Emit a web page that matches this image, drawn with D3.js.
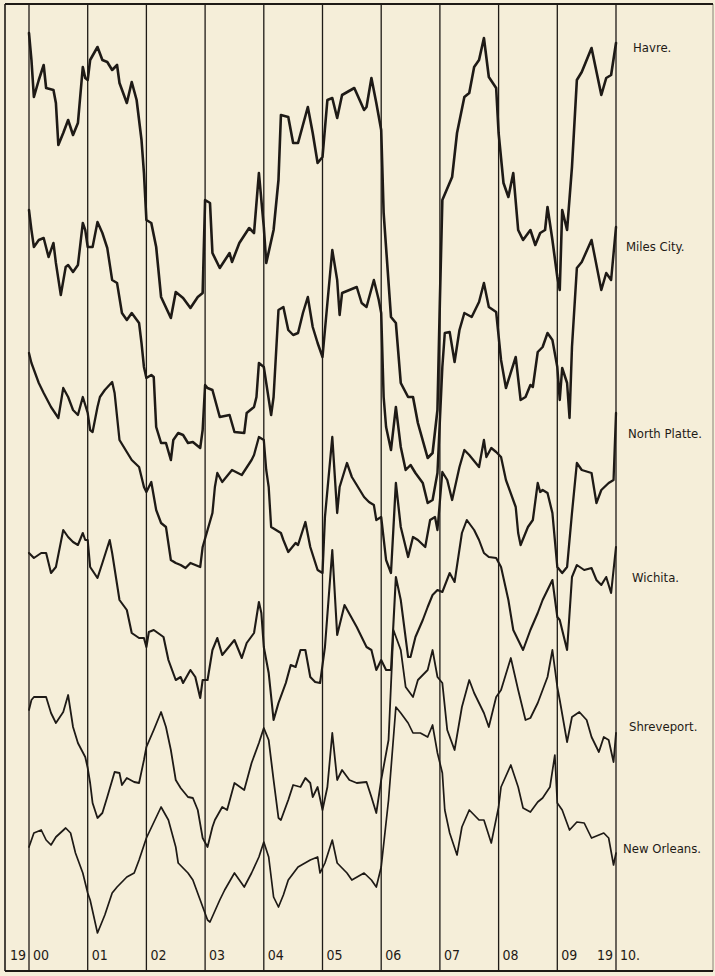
<!DOCTYPE html>
<html>
<head>
<meta charset="utf-8">
<script src="https://cdnjs.cloudflare.com/ajax/libs/d3/7.8.5/d3.min.js"></script>
<style>
  html, body { margin: 0; padding: 0; background: #f5eed9; }
  svg { display: block; }
</style>
</head>
<body>
<div id="container"></div>
<script>
// monthly index (0 = Jan 1900, 120 = Jan 1910) and relative level
const havre = [[0,938],[0.5,911],[1,874],[2,891],[3,906],[3.5,883],[5,881],[5.5,868],[6,826],[7,838],[8,851],[9,836],[10,848],[11,904],[11.5,893],[12,891],[12.5,911],[14,924],[15,911],[16,909],[17,901],[18,906],[18.5,888],[20,868],[21,889],[22,871],[23,831],[23.5,798],[24,751],[25,748],[26,724],[27,674],[29,653],[30,679],[31.5,673],[33,663],[34.5,674],[35.5,678],[36,771],[37,768],[37.5,718],[39,703],[41,718],[41.5,709],[43,728],[45,743],[46,738],[47,798],[48,744],[48.5,708],[50,741],[51,791],[51.5,856],[53,854],[54,828],[55,828],[57,864],[58,838],[59,808],[60,814],[61,871],[62,873],[63,853],[64,876],[66.5,883],[68.5,861],[69,864],[70,893],[71,868],[72,841],[72.5,758],[74,654],[75,648],[76,588],[77.5,574],[78.5,574],[79.5,548],[81.5,513],[82.5,518],[83.5,561],[84,671],[84.5,771],[86.5,794],[87.5,838],[89,874],[90,878],[91,904],[92,911],[93,933],[94,894],[95.5,883],[96,838],[97,788],[98,774],[99,798],[100,741],[101,731],[102.5,741],[103.5,726],[104.5,738],[105.5,741],[106,764],[107,731],[108,694],[108.5,681],[109,761],[110,741],[111,804],[112,891],[113,899],[115,923],[117,876],[118,893],[119,896],[120,928]];

const milesCity = [[0,761],[0.5,741],[1,724],[2,731],[3,733],[4,714],[5,728],[5.5,708],[6.5,676],[7.5,704],[8,706],[9,699],[10,706],[11,748],[11.5,741],[12,724],[13,724],[14,749],[15,738],[16,723],[17,691],[18,688],[19,658],[20,651],[21,658],[22.5,648],[23,628],[23.5,604],[24,593],[25,596],[25.5,594],[26,544],[27,528],[28,528],[29,511],[29.5,531],[30.5,538],[31.5,536],[32.5,528],[33.5,529],[35,523],[35.5,541],[36,586],[36.5,583],[37.5,581],[39,554],[41,556],[42,539],[44,538],[44.5,558],[46,564],[46.5,574],[47,608],[48,604],[48.5,588],[49.5,556],[50,574],[51,661],[52,664],[53,641],[54,636],[55,638],[56,658],[57,674],[58,644],[59,628],[60,614],[60.5,641],[61,668],[62,721],[63,691],[63.5,656],[64,678],[65.5,681],[67,684],[68,668],[69,664],[70.5,691],[71.5,671],[72,658],[72.5,574],[73,544],[74,521],[75,564],[76,524],[77,501],[78,506],[79,498],[80.5,488],[81.5,468],[82.5,471],[83.5,498],[84.5,604],[85,638],[86,639],[87,609],[88,641],[89,658],[90.5,654],[92,669],[93,688],[94,664],[95.5,659],[96.5,611],[97.5,583],[99.5,614],[100.5,571],[101.5,574],[102.5,586],[103,584],[104,619],[105,624],[106,638],[107,631],[108,604],[108.5,571],[109,603],[110,588],[110.5,553],[111,624],[112,703],[113,709],[115,731],[117,681],[118,698],[119,691],[120,744]];

const northPlatte = [[0,618],[0.5,608],[2,588],[3,578],[4.5,564],[6,553],[7,583],[8,574],[9,561],[10,556],[11,574],[12,558],[12.5,541],[13,539],[14,564],[14.5,574],[15.5,581],[17,589],[17.5,578],[18.5,531],[20,519],[21,511],[22.5,504],[23.5,484],[24,479],[25,489],[26,461],[27,448],[28,444],[29,411],[30,408],[31,406],[32,403],[33,408],[34,406],[35,404],[35.5,424],[36.5,441],[37.5,458],[38,484],[38.5,498],[39.5,489],[41.5,501],[43.5,496],[45.5,511],[46,516],[47,534],[48,531],[48.5,501],[49,484],[49.5,444],[50.5,441],[51.5,438],[52,431],[53,419],[54.5,428],[55,426],[56.5,449],[57.5,424],[59,401],[60,398],[60.5,454],[62,534],[63,458],[63.5,484],[65,508],[66,494],[68.5,474],[69.5,469],[70.5,466],[71,451],[72,454],[73,411],[74,398],[75,488],[76,444],[77.5,414],[78.5,434],[79.5,431],[81,424],[82,451],[83,454],[83.5,441],[84.5,499],[85.5,491],[86.5,471],[88,504],[89,521],[90,516],[92,504],[93,531],[93.5,514],[94.5,523],[95.5,519],[96.5,514],[97.5,491],[99.5,464],[100,438],[100.5,426],[102,444],[103,451],[104,488],[104.5,479],[105,481],[106,478],[107,458],[108,404],[109,398],[110,404],[111,458],[112,508],[113,501],[115,498],[116,468],[117,481],[118.5,488],[119.5,491],[120,558]];

const wichita = [[0,418],[1,413],[2.5,418],[3.5,418],[4.5,398],[5.5,404],[7,441],[8,434],[9,429],[10,426],[11,438],[11.5,431],[12,431],[12.5,404],[14,393],[15,408],[16.5,431],[17,418],[18.5,371],[20,361],[21,338],[22.5,333],[23.5,333],[24,324],[24.5,339],[25.5,341],[27.5,334],[28.5,311],[30,291],[31,294],[31.5,288],[33,301],[34,294],[35,273],[35.5,291],[36.5,291],[37.5,321],[38.5,333],[39.5,316],[42,331],[43.5,313],[44.5,328],[46,338],[47,369],[47.5,358],[48,324],[49,298],[50,251],[51,268],[52.5,288],[53.5,306],[54.5,304],[55.5,321],[56.5,321],[57.5,294],[58.5,289],[59.5,288],[60.5,324],[62,421],[63,336],[64.5,366],[67,344],[69,324],[70,321],[71,301],[72,311],[73,301],[74,301],[75,394],[76,371],[77.5,314],[78,314],[79,334],[80.5,351],[81.5,364],[82.5,376],[83.5,381],[84.5,379],[86,398],[87,389],[88.5,438],[89.5,451],[91,441],[92,431],[93,418],[94,414],[95.5,413],[96.5,404],[98,371],[99,341],[101,321],[102.5,341],[104,358],[105,371],[107,391],[108,354],[108.5,351],[110,321],[111,394],[112,406],[113.5,401],[115,403],[116,391],[117,386],[118,394],[119,378],[120,424]];

const shreveport = [[0,261],[0.5,271],[1,274],[3.5,274],[4.5,258],[5.5,248],[7,259],[8,276],[9,244],[10,228],[11.5,214],[12,203],[12.5,188],[13,168],[14,153],[15,158],[16,174],[17.5,199],[18.5,198],[19,186],[20,193],[21.5,189],[22.5,188],[23.5,211],[24,224],[25.5,241],[27,259],[28,244],[29,221],[30,191],[31,183],[32.5,174],[33.5,173],[34.5,161],[35.5,133],[36.5,124],[37.5,144],[38,151],[39.5,164],[40.5,161],[42,188],[44,181],[45.5,208],[47,228],[48,243],[49,231],[50,191],[51,153],[51.5,151],[53,171],[54,186],[55.5,184],[56.5,193],[57.5,188],[58,174],[59,184],[60,161],[61,184],[62,238],[63,191],[64,201],[65.5,191],[67,188],[69,189],[70,174],[71,158],[72,191],[73.5,231],[74.5,341],[76,321],[77,284],[78.5,274],[79.5,291],[80.5,296],[81.5,301],[82.5,321],[83.5,294],[84.5,288],[85.5,241],[87,221],[88.5,264],[90,291],[91,278],[93,258],[94,244],[95.5,274],[96.5,281],[98.5,313],[100,281],[101.5,251],[102.5,253],[104,268],[105,281],[106,294],[107,321],[108,284],[108.5,271],[110,229],[111,254],[112.5,259],[114,251],[115,234],[116.5,219],[117.5,234],[118.5,231],[119.5,209],[120,238]];

const newOrleans = [[0,124],[1,138],[2.5,141],[3.5,131],[4.5,126],[5.5,134],[7.5,143],[8.5,138],[9.5,118],[11,98],[12,78],[12.5,71],[14,38],[15.5,56],[17,78],[18,84],[20,94],[21.5,98],[22.5,111],[24,133],[27,164],[28.5,151],[30,124],[30.5,108],[32.5,98],[33.5,91],[35,71],[36.5,51],[37,49],[39,71],[40,81],[42,98],[44,84],[45.5,98],[47,114],[48,129],[49,114],[50,74],[51,64],[52,76],[53,91],[55,104],[57.5,111],[59,114],[59.5,98],[60.5,108],[62,131],[63,108],[65,98],[66,91],[68.5,98],[70,91],[71,84],[72,104],[73.5,171],[75,264],[76,258],[77.5,248],[78.5,238],[80,238],[81.5,234],[82.5,246],[83.5,218],[84.5,198],[85,161],[86,138],[87.5,116],[88.5,144],[90,161],[92,151],[93,151],[94.5,128],[96,164],[96.5,184],[98.5,206],[100,184],[101,163],[102.5,159],[104,169],[105,173],[106.5,184],[107.5,216],[108,168],[109,161],[110.5,141],[112,149],[113.5,148],[115,133],[117.5,138],[118.5,133],[119.5,106],[120,118]];

const stations = ['Havre.', 'Miles City.', 'North Platte.', 'Wichita.', 'Shreveport.', 'New Orleans.'];
const seriesList = [havre, milesCity, northPlatte, wichita, shreveport, newOrleans];
const yearTicks = ['00', '01', '02', '03', '04', '05', '06', '07', '08', '09', '10.'];

const width = 715;
const height = 976;
const ink = '#1e1a16';

const svg = d3.select('#container')
    .append('svg')
    .attr('width', width)
    .attr('height', height)
    .style('background-color', '#f5eed9');

const x = d3.scaleLinear().domain([0, 120]).range([29, 616]);
const y = d3.scaleLinear().domain([0, 967]).range([971, 4]);

/* frame */
svg.append('line').attr('x1', 5).attr('x2', 713).attr('y1', 4).attr('y2', 4)
    .attr('stroke', ink).attr('stroke-width', 2.2);
svg.append('line').attr('x1', 5).attr('x2', 713).attr('y1', 971).attr('y2', 971)
    .attr('stroke', ink).attr('stroke-width', 2);
svg.append('line').attr('x1', 5).attr('x2', 5).attr('y1', 4).attr('y2', 971)
    .attr('stroke', ink).attr('stroke-width', 1.6);
svg.append('line').attr('x1', 713).attr('x2', 713).attr('y1', 4).attr('y2', 971)
    .attr('stroke', ink).attr('stroke-width', 1).attr('opacity', 0.5);

/* year lines */
const years = d3.range(0, 121, 12);
svg.append('g').attr('class', 'grid')
    .selectAll('line')
    .data(years)
    .join('line')
    .attr('x1', (d) => x(d))
    .attr('x2', (d) => x(d))
    .attr('y1', 4)
    .attr('y2', 971)
    .attr('stroke', ink)
    .attr('stroke-width', 1.3);

/* year labels along the bottom */
const labelFont = '"DejaVu Sans Condensed", "DejaVu Sans", sans-serif';
svg.append('g').attr('class', 'year-labels')
    .selectAll('text')
    .data(years)
    .join('text')
    .attr('x', (d) => x(d) + 4)
    .attr('y', 960)
    .attr('font-family', labelFont)
    .attr('font-size', 14)
    .attr('fill', ink)
    .text((d, i) => yearTicks[i]);

svg.append('text').attr('x', x(0) - 3).attr('y', 960).attr('text-anchor', 'end')
    .attr('font-family', labelFont).attr('font-size', 14).attr('fill', ink).text('19');
svg.append('text').attr('x', x(120) - 3).attr('y', 960).attr('text-anchor', 'end')
    .attr('font-family', labelFont).attr('font-size', 14).attr('fill', ink).text('19');

/* curves */
const line = d3.line()
    .x((d) => x(d[0]))
    .y((d) => y(d[1]));

const widths = [2.6, 2.5, 2.3, 2.1, 1.8, 1.7];

svg.append('g').attr('class', 'curves')
    .selectAll('path')
    .data(seriesList)
    .join('path')
    .attr('d', line)
    .attr('fill', 'none')
    .attr('stroke', ink)
    .attr('stroke-width', (d, i) => widths[i])
    .attr('stroke-linejoin', 'round')
    .attr('stroke-linecap', 'round');

/* station names at the right, next to the last value */
svg.append('g').attr('class', 'station-labels')
    .selectAll('text')
    .data(stations)
    .join('text')
    .attr('x', (d, i) => [633, 626, 628, 632, 629, 623][i])
    .attr('y', (d, i) => y(seriesList[i][seriesList[i].length - 1][1]) + [9, 24, 25, 35, -2, 0][i])
    .attr('font-family', labelFont)
    .attr('font-size', 13)
    .attr('fill', ink)
    .text((d) => d);
</script>
</body>
</html>
